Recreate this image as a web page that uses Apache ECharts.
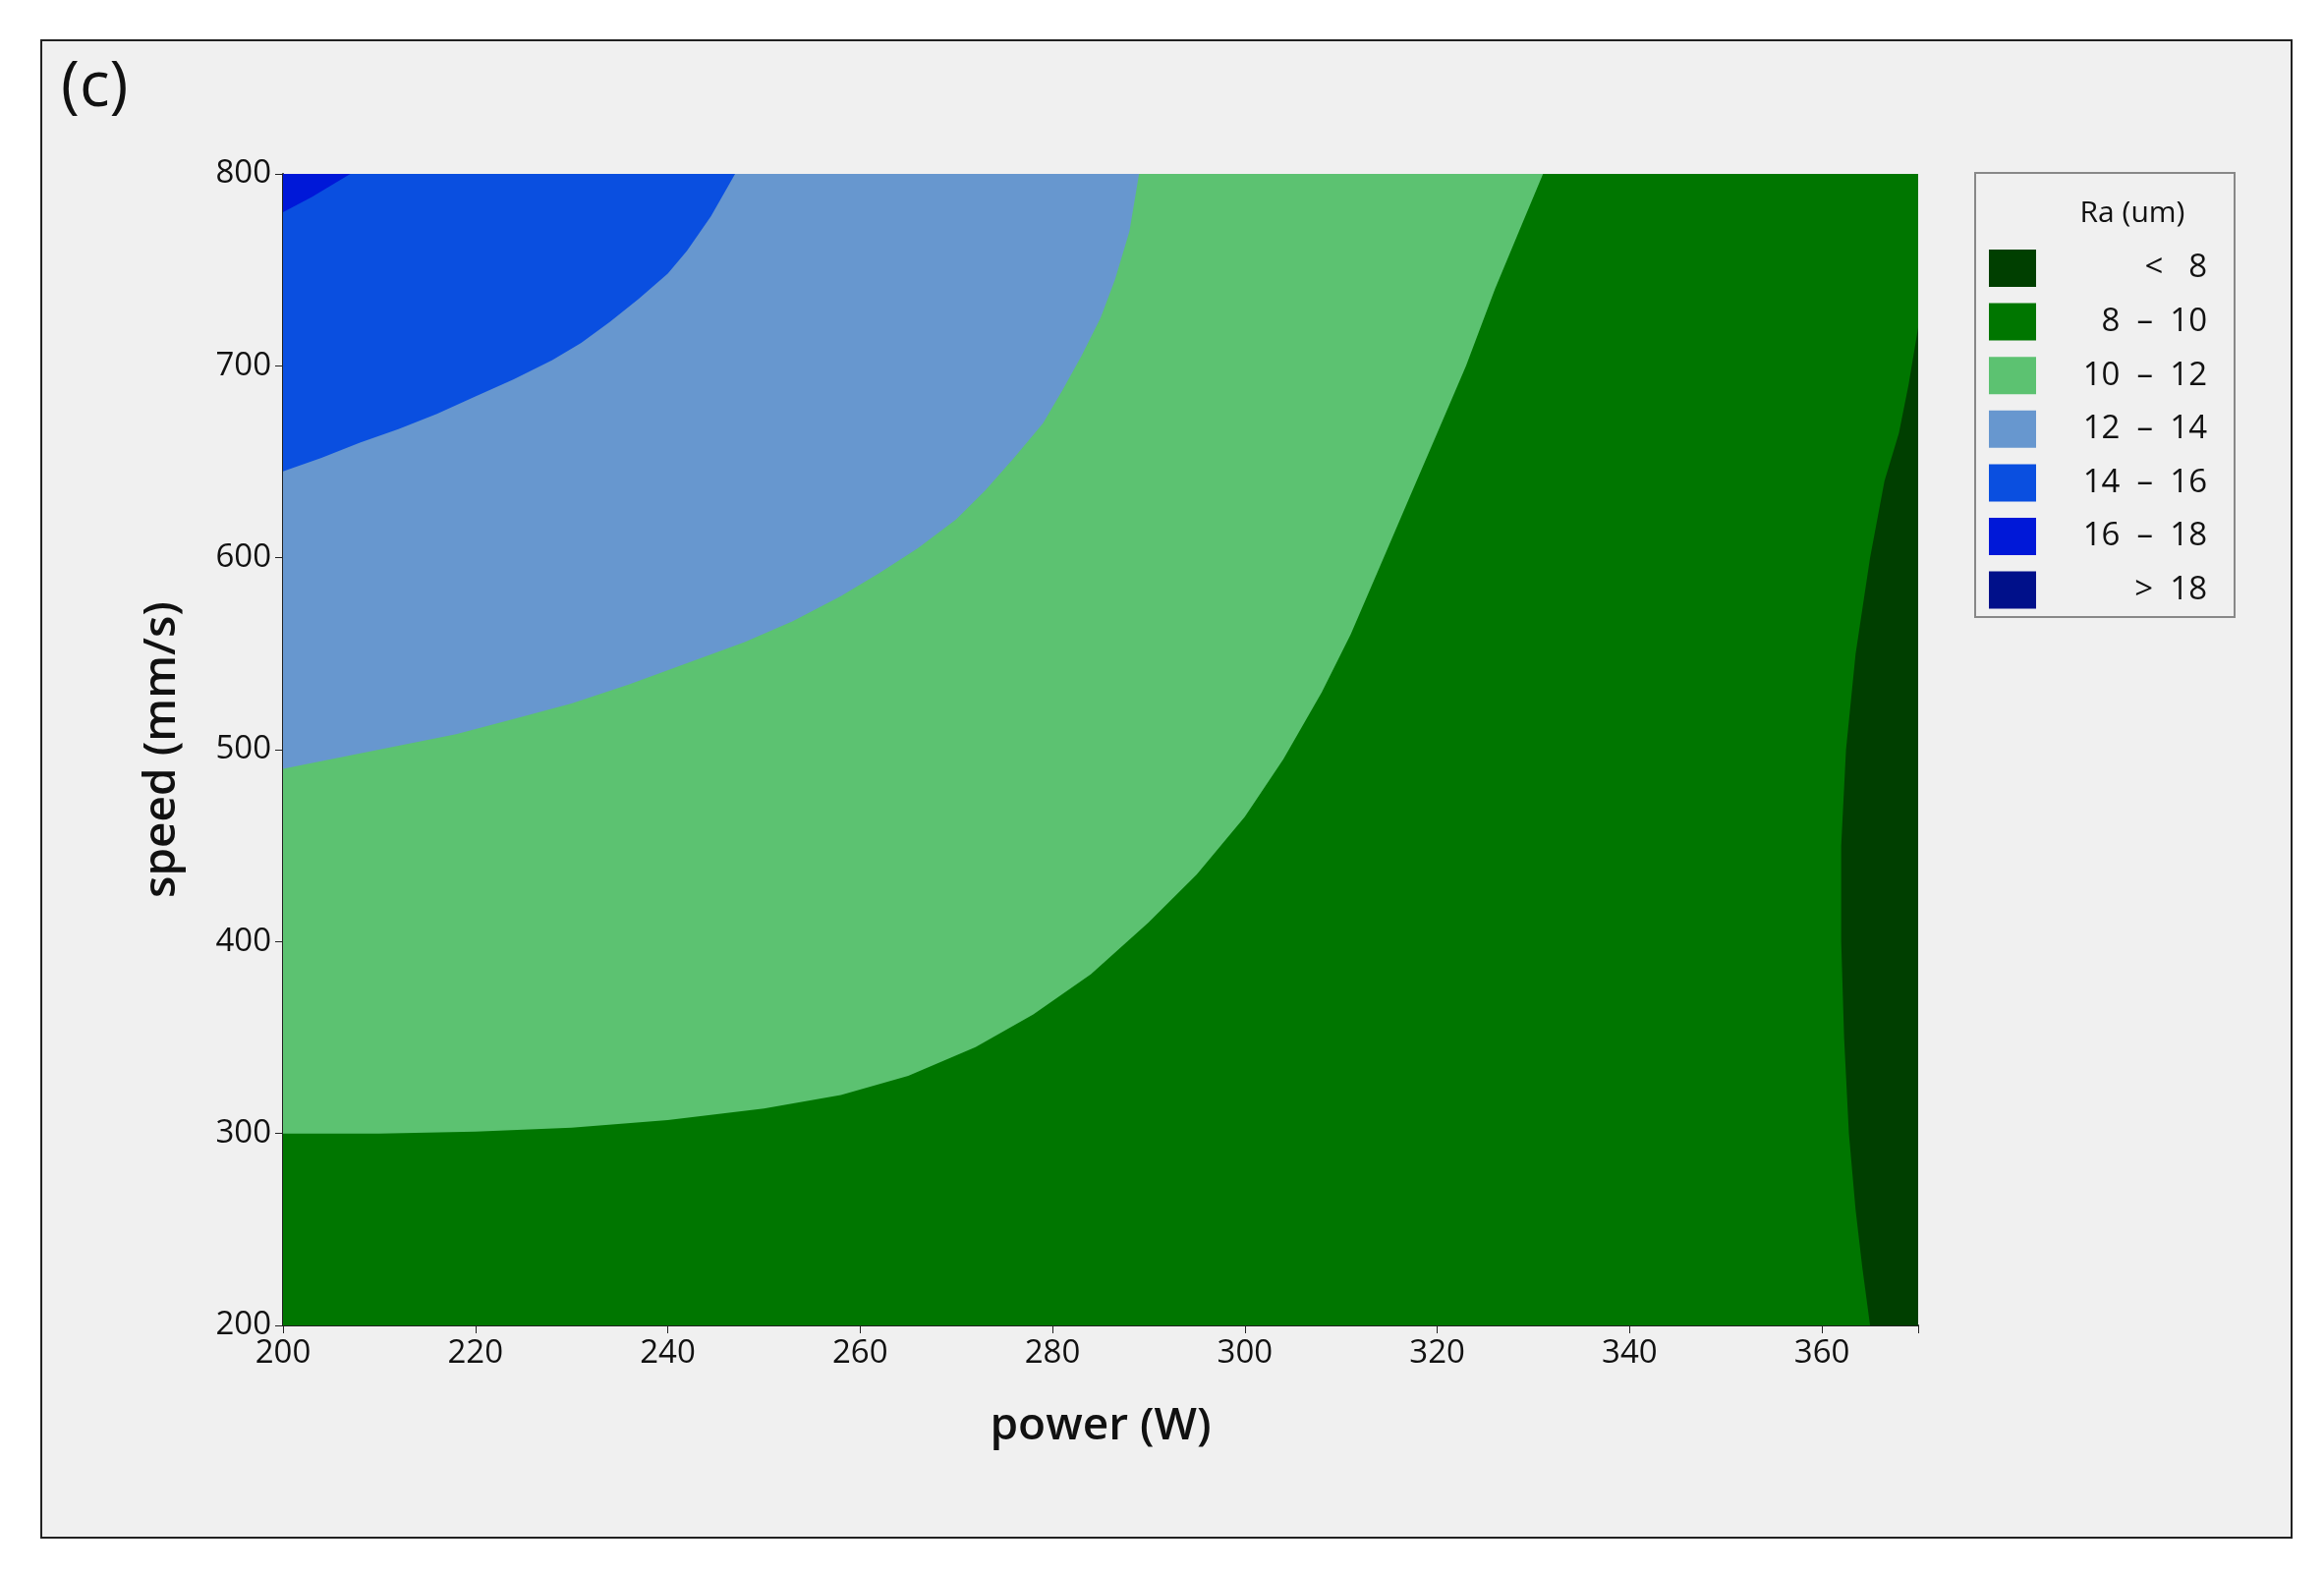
<!DOCTYPE html>
<html><head><meta charset="utf-8">
<script src="https://cdn.jsdelivr.net/npm/echarts@6/dist/echarts.min.js"></script>
<style>html,body{margin:0;padding:0;background:#fff}#c{width:2365px;height:1602px}</style>
</head><body><div id="c"></div>
<script>
const xTicks = [200,220,240,260,280,300,320,340,360];
const yTicks = [200,300,400,500,600,700,800];
const levelLabels = ['<   8','8  –  10','10  –  12','12  –  14','14  –  16','16  –  18','>  18'];
const levelColors = ['#003f00','#007600','#5cc271','#6797cf','#0a4fe0','#0018d8','#00108a'];
// contour boundaries [power, speed]
const b8 = [[370,720],[369,690],[368,665],[366.5,640],[365,600],[363.5,550],[362.5,500],[362,450],[362,400],[362.3,350],[362.8,300],[363.5,260],[364.2,230],[365,200]];
const b10 = [[200,300],[210,300],[220,301],[230,303],[240,307],[250,313],[258,320],[265,330],[272,345],[278,362],[284,383],[290,410],[295,435],[300,465],[304,495],[308,530],[311,560],[314,595],[317,630],[320,665],[323,700],[326,740],[328.5,770],[331,800]];
const b12 = [[200,490],[206,496],[212,502],[218,508],[224,516],[230,524],[236,534],[242,545],[248,556],[253,567],[258,580],[262,592],[266,605],[270,620],[273,635],[276,652],[279,670],[281,687],[283,705],[285,725],[286.5,745],[288,770],[289,800]];
const b14 = [[200,645],[204,652],[208,660],[212,667],[216,675],[220,684],[224,693],[228,703],[231,712],[234,723],[237,735],[240,748],[242,760],[244.5,778],[247,800]];
const b16 = [[200,780],[203,788],[207,800]];

const regions = [
  {c:1, pts:[[200,200],[370,200],[370,800],[200,800]]},
  {c:0, pts:b8.concat([[370,200]])},
  {c:2, pts:b10.concat([[200,800]])},
  {c:3, pts:b12.concat([[200,800]])},
  {c:4, pts:b14.concat([[200,800]])},
  {c:5, pts:b16.concat([[200,800]])}
];

const font = 'Open Sans';
const chart = echarts.init(document.getElementById('c'));
const lx = 2010, ly = 176;
const g = [
  {type:'rect', shape:{x:42,y:41,width:2290,height:1524}, style:{fill:'#f0f0f0',stroke:'#222',lineWidth:2}, z:-10},
  {type:'text', left:62, top:58, style:{text:'(c)', font:'64px "'+font+'"', fill:'#111'}},
  {type:'rect', shape:{x:lx,y:ly,width:264,height:452}, style:{fill:'#f0f0f0',stroke:'#888',lineWidth:2}},
  {type:'text', x:lx+160, y:ly+41, style:{text:'Ra (um)', font:'500 30px "'+font+'"', fill:'#111', align:'center', verticalAlign:'middle'}}
];
levelLabels.forEach((t,i)=>{
  const y = ly+97+i*54.6;
  g.push({type:'rect', shape:{x:lx+14,y:y-19,width:48,height:38}, style:{fill:levelColors[i]}});
  g.push({type:'text', x:lx+236, y:y, style:{text:t, font:'500 33px "'+font+'"', fill:'#111', align:'right', verticalAlign:'middle'}});
});
chart.setOption({
  animation:false,
  backgroundColor:'#ffffff',
  graphic:g,
  grid:{left:288,right:2365-1952,top:177,bottom:1602-1349},
  xAxis:{type:'value',min:200,max:370,interval:20,name:'power (W)',nameLocation:'middle',nameGap:80,
    nameTextStyle:{fontFamily:font,fontSize:46,fontWeight:600,color:'#111'},
    axisLine:{show:true,lineStyle:{color:'#222',width:2}},axisTick:{show:true,length:8,lineStyle:{color:'#222'}},
    axisLabel:{fontFamily:font,fontSize:33,fontWeight:500,color:'#111',margin:12,formatter:v=>xTicks.includes(v)?String(v):''},
    splitLine:{show:false}},
  yAxis:{type:'value',min:200,max:800,interval:100,name:'speed (mm/s)',nameLocation:'middle',nameGap:100,
    nameTextStyle:{fontFamily:font,fontSize:46,fontWeight:600,color:'#111'},
    axisLine:{show:true,lineStyle:{color:'#222',width:2}},axisTick:{show:true,length:8,lineStyle:{color:'#222'}},
    axisLabel:{fontFamily:font,fontSize:33,fontWeight:500,color:'#111',margin:12,formatter:v=>yTicks.includes(v)?String(v):''},
    splitLine:{show:false}},
  series:[{
    type:'custom', coordinateSystem:'cartesian2d', clip:true,
    data:regions.map((r,i)=>[i]),
    renderItem:(params,api)=>{
      const r = regions[params.dataIndex];
      return {type:'polygon', shape:{points:r.pts.map(p=>api.coord(p))},
        style:{fill:levelColors[r.c]}};
    }
  }]
});
</script></body></html>
